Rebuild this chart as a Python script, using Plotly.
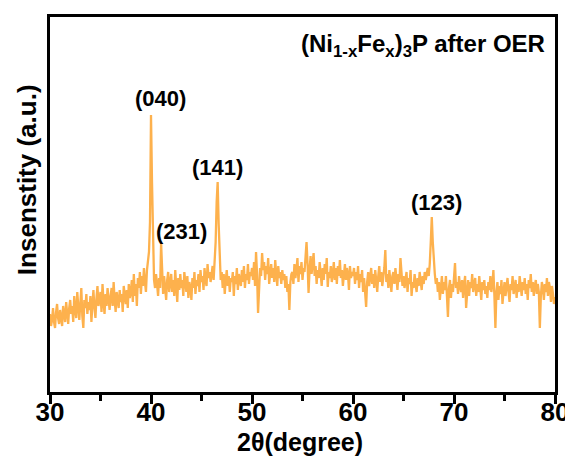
import plotly.graph_objects as go

two_theta = [round(30 + 0.1 * i, 1) for i in range(501)]
intensity = [
    78, 66, 72, 84, 70, 64, 80, 88, 74, 68,
    82, 72, 66, 86, 78, 70, 90, 76, 68, 84,
    92, 78, 86, 70, 96, 82, 74, 100, 80, 72,
    88, 104, 76, 64, 92, 84, 98, 78, 90, 82,
    96, 70, 88, 102, 84, 74, 94, 106, 86, 92,
    100, 80, 108, 90, 78, 98, 86, 104, 92, 82,
    96, 104, 86, 110, 92, 80, 100, 94, 84, 102,
    90, 98, 80, 106, 96, 88, 102, 84, 108, 94,
    100, 112, 90, 118, 96, 108, 86, 114, 104, 120,
    98, 116, 106, 124, 110, 100, 122, 130, 140, 170,
    277, 210, 140, 112, 104, 118, 108, 96, 114, 104,
    149, 110, 98, 116, 104, 92, 112, 120, 100, 110,
    118, 100, 112, 96, 122, 106, 90, 114, 102, 118,
    104, 112, 96, 120, 108, 100, 116, 94, 110, 104,
    92, 114, 104, 120, 98, 112, 106, 118, 100, 122,
    110, 116, 102, 124, 112, 106, 128, 114, 120, 110,
    118, 126, 112, 130, 150, 190, 210, 168, 128, 112,
    120, 104, 118, 98, 112, 122, 106, 116, 100, 114,
    110, 120, 96, 116, 108, 124, 102, 118, 112, 106,
    122, 110, 126, 104, 118, 112, 128, 108, 120, 116,
    124, 112, 130, 106, 140, 118, 79, 110, 124, 116,
    139, 122, 130, 112, 126, 118, 134, 108, 120, 128,
    114, 124, 110, 132, 118, 106, 126, 114, 120, 108,
    122, 112, 118, 104, 116, 100, 108, 82, 110, 118,
    120, 108, 128, 114, 122, 134, 110, 126, 118, 130,
    112, 124, 120, 134, 150, 128, 99, 122, 136, 118,
    130, 139, 116, 126, 108, 122, 114, 130, 118, 106,
    124, 112, 128, 118, 134, 105, 120, 114, 126, 110,
    118, 130, 112, 124, 108, 126, 116, 132, 114, 122,
    106, 120, 128, 112, 124, 118, 102, 126, 114, 120,
    116, 124, 108, 120, 112, 126, 104, 118, 110, 122,
    100, 114, 92, 85, 110, 120, 106, 116, 124, 108,
    118, 104, 122, 112, 100, 116, 126, 110, 120, 106,
    114, 124, 142, 110, 118, 104, 122, 112, 100, 116,
    120, 108, 124, 114, 102, 118, 110, 134, 112, 106,
    116, 104, 112, 120, 100, 114, 108, 122, 96, 110,
    104, 118, 108, 100, 114, 106, 120, 110, 102, 116,
    108, 120, 112, 118, 124, 116, 128, 150, 175, 150,
    130, 118, 108, 114, 100, 110, 92, 106, 116, 98,
    110, 102, 116, 96, 75, 104, 112, 94, 108, 100,
    114, 129, 104, 110, 98, 116, 106, 100, 112, 94,
    108, 116, 84, 102, 112, 96, 110, 104, 118, 100,
    106, 114, 96, 108, 100, 116, 104, 92, 110, 102,
    112, 98, 106, 94, 110, 102, 116, 100, 108, 122,
    96, 64, 100, 110, 92, 106, 98, 112, 88, 104,
    110, 96, 106, 114, 100, 90, 108, 102, 116, 98,
    104, 112, 94, 108, 100, 116, 106, 96, 110, 102,
    114, 98, 108, 92, 112, 104, 118, 100, 110, 96,
    106, 112, 98, 108, 100, 64, 96, 110, 104, 92,
    108, 100, 114, 96, 110, 104, 90, 106, 98, 88,
    95,
]

peak_labels = ["(040)", "(231)", "(141)", "(123)"]
peak_x = [40.9, 43.0, 46.6, 68.3]
peak_y = [294, 161, 225, 190]

sample_label = "(Ni<sub>1-x</sub>Fe<sub>x</sub>)<sub>3</sub>P after OER"
x_title = "2θ(degree)"
y_title = "Insenstity (a.u.)"
x_ticks = [30, 40, 50, 60, 70, 80]
x_minor = [35, 45, 55, 65, 75]

FONT = "Liberation Sans, Arial, sans-serif"

fig = go.Figure()
fig.add_trace(go.Scatter(
    x=two_theta, y=intensity, mode="lines",
    line=dict(color="#FDB14D", width=2.3), showlegend=False,
))

for t, x, y in zip(peak_labels, peak_x, peak_y):
    fig.add_annotation(x=x, y=y, text=t, showarrow=False,
                       font=dict(family=FONT, size=22, color="black", weight="bold"))

fig.add_annotation(x=0.984, y=0.923, xref="paper", yref="paper", text=sample_label,
                   showarrow=False, xanchor="right", yanchor="middle",
                   font=dict(family=FONT, size=24, color="black", weight="bold"))

fig.add_annotation(x=0.495, y=-0.133, xref="paper", yref="paper", text=x_title,
                   showarrow=False, xanchor="center", yanchor="middle",
                   font=dict(family=FONT, size=25, color="black", weight="bold"))

fig.add_annotation(x=-0.0455, y=0.565, xref="paper", yref="paper", text=y_title,
                   showarrow=False, textangle=-90, xanchor="center", yanchor="middle",
                   font=dict(family=FONT, size=26, color="black", weight="bold"))

# page body adds an 8px offset; shrink the figure so it fits the 573x457 window
fig.update_layout(
    width=565, height=449,
    margin=dict(l=42, r=18, t=9, b=65),
    paper_bgcolor="white", plot_bgcolor="white",
    font=dict(family=FONT, color="black"),
    xaxis=dict(
        range=[30, 80], tickvals=x_ticks, automargin=False,
        ticks="outside", ticklen=9, tickwidth=3, tickcolor="black",
        ticklabelstandoff=-14,
        minor=dict(tickvals=x_minor, ticks="outside", ticklen=6, tickwidth=3, tickcolor="black"),
        showline=True, linecolor="black", linewidth=3, mirror=True,
        showgrid=False, zeroline=False,
        tickfont=dict(family=FONT, size=26, color="black", weight="bold"),
    ),
    yaxis=dict(
        range=[0, 375], showticklabels=False, ticks="", automargin=False,
        showline=True, linecolor="black", linewidth=3, mirror=True,
        showgrid=False, zeroline=False,
    ),
)

fig.write_html("out.html")
